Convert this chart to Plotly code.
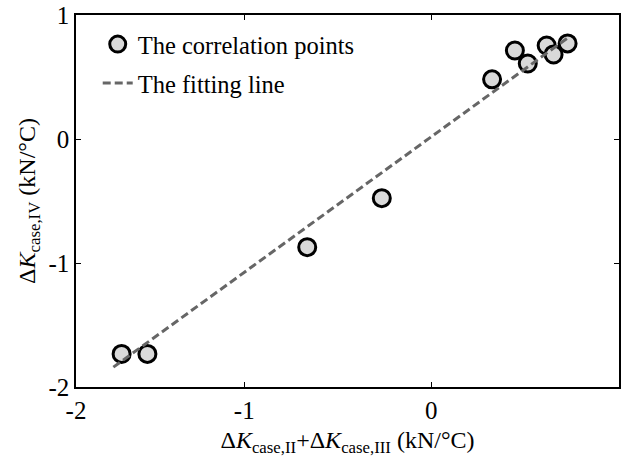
import plotly.graph_objects as go

# Correlation points
pts_x = [-1.656, -1.518, -0.663, -0.264, 0.326, 0.448, 0.517, 0.618, 0.655, 0.730]
pts_y = [-1.733, -1.733, -0.872, -0.477, 0.481, 0.714, 0.609, 0.754, 0.682, 0.771]

# Fitting line end points
fit_x = [-1.70, 0.735]
fit_y = [-1.84, 0.82]

x_tickvals = [-1.9, -1, 0, 1]
x_ticktext = ["-2", "-1", "0", "1"]
y_tickvals = [-2, -1, 0, 1]
y_ticktext = ["-2", "-1", "0", "1"]

FONT = "Liberation Serif, Times New Roman, serif"

fig = go.Figure()
fig.add_trace(go.Scatter(
    x=pts_x, y=pts_y, mode="markers", name="The correlation points",
    legendgroup="a",
    marker=dict(size=17, color="#d9d9d9", line=dict(color="black", width=3)),
))
fig.add_trace(go.Scatter(
    x=fit_x, y=fit_y, mode="lines", name="The fitting line",
    legendgroup="b",
    line=dict(color="#666666", width=3, dash="8px,4px"),
))

axis_common = dict(
    showgrid=False, zeroline=False, showline=True, linecolor="black", linewidth=1.5,
    mirror="ticks", ticks="inside", ticklen=5, tickwidth=1.2, tickcolor="black",
    tickfont=dict(family=FONT, size=25, color="black"),
)

fig.update_layout(
    width=621, height=458,
    margin=dict(l=76, r=0, t=15, b=71),
    paper_bgcolor="white", plot_bgcolor="white",
    font=dict(family=FONT, color="black", size=24),
    showlegend=True,
    legend=dict(x=0.04, y=0.982, xanchor="left", yanchor="top",
                bgcolor="rgba(0,0,0,0)", font=dict(family=FONT, size=24.5, color="black"),
                itemwidth=30, traceorder="grouped", tracegroupgap=4),
    xaxis=dict(
        range=[-1.9, 1.005], tickvals=x_tickvals, ticktext=x_ticktext,
        title=dict(text="Δ<i>K</i><sub>case,II</sub>+Δ<i>K</i><sub>case,III</sub> (kN/°C)",
                   font=dict(family=FONT, size=24, color="black"), standoff=8),
        **axis_common,
    ),
    yaxis=dict(
        range=[-2, 1], tickvals=y_tickvals, ticktext=y_ticktext,
        title=dict(text="Δ<i>K</i><sub>case,IV</sub> (kN/°C)",
                   font=dict(family=FONT, size=24, color="black"), standoff=6),
        **axis_common,
    ),
)

fig.write_html("out.html")
